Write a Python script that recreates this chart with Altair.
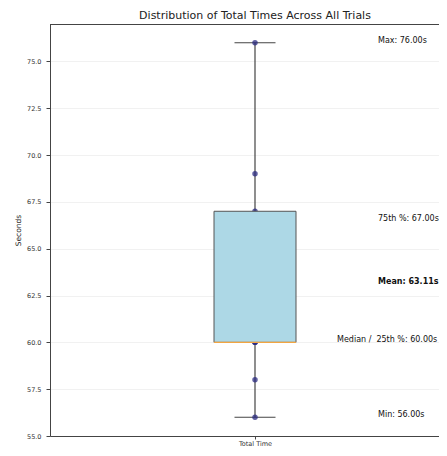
import altair as alt
import pandas as pd

# ---- data ----
times = [56, 58, 60, 60, 60, 62, 67, 69, 76]
category = "Total Time"
note_labels = ["Max: 76.00s", "75th %: 67.00s", "Mean: 63.11s",
               "Median /\u00a0 25th %: 60.00s", "Min: 56.00s"]
note_y = [76.0, 66.5, 63.11, 60.0, 56.0]
note_x = [1.3, 1.3, 1.3, 1.2, 1.3]
note_bold = [False, False, True, False, False]
y_ticks = [55.0, 57.5, 60.0, 62.5, 65.0, 67.5, 70.0, 72.5, 75.0]

df = pd.DataFrame({"time": times, "pos": [1] * len(times)})
notes = pd.DataFrame({"label": note_labels, "y": note_y, "x": note_x, "bold": note_bold})

FONT = "DejaVu Sans"
W, H = 389, 412
xscale = alt.Scale(domain=[0.5, 0.5 + W / 410], nice=False, zero=False)
yscale = alt.Scale(domain=[55, 77], nice=False, zero=False)
xaxis = alt.Axis(values=[1], labelExpr="'%s'" % category, grid=False, domain=True,
                 ticks=True, tickSize=3, labelPadding=1)
yaxis = alt.Axis(values=y_ticks, format=".1f", grid=True, domain=True,
                 tickSize=4, labelPadding=5, titlePadding=4)


def X(field, **kw):
    return alt.X(field, type="quantitative", scale=xscale, axis=xaxis, title=None, **kw)


def Y(field, **kw):
    return alt.Y(field, type="quantitative", scale=yscale, axis=yaxis, title="Seconds", **kw)


base = alt.Chart(df)
stats = base.transform_aggregate(
    q1="q1(time)", q3="q3(time)", med="median(time)", lo="min(time)", hi="max(time)"
).transform_calculate(xl="0.9", xr="1.1", cl="0.95", cr="1.05", xc="1")

top_spine = base.mark_rule(color="#444444", strokeWidth=1).encode(
    x=alt.value(0), x2=alt.value(W), y=alt.value(0.5))
whisker = stats.mark_rule(color="#444444", strokeWidth=1.2).encode(
    x=X("xc"), y=Y("lo"), y2="hi:Q")
cap_lo = stats.mark_rule(color="#444444", strokeWidth=1.2).encode(
    x=X("cl"), x2="cr:Q", y=Y("lo"))
cap_hi = stats.mark_rule(color="#444444", strokeWidth=1.2).encode(
    x=X("cl"), x2="cr:Q", y=Y("hi"))
points = base.mark_circle(size=30, color="#2a2a80", opacity=0.75).encode(
    x=X("pos"), y=Y("time"))
box = stats.mark_rect(fill="#add8e6", stroke="#555555", strokeWidth=1).encode(
    x=X("xl"), x2="xr:Q", y=Y("q1"), y2="q3:Q")
median = stats.mark_rule(color="#f2a541", strokeWidth=1.2).encode(
    x=X("xl"), x2="xr:Q", y=Y("med"))
note_base = alt.Chart(notes)
text_normal = note_base.transform_filter("!datum.bold").mark_text(
    align="left", baseline="alphabetic", fontSize=8, font=FONT, color="#111111"
).encode(x=X("x"), y=Y("y"), text="label:N")
text_bold = note_base.transform_filter("datum.bold").mark_text(
    align="left", baseline="alphabetic", fontSize=8, font=FONT, color="#111111",
    fontWeight="bold"
).encode(x=X("x"), y=Y("y"), text="label:N")

chart = alt.layer(whisker, cap_lo, cap_hi, points, box, median,
                  text_normal, text_bold, top_spine).properties(
    width=W, height=H,
    autosize=alt.AutoSizeParams(type="none"),
    padding={"left": 42, "top": 16, "right": 0, "bottom": 12},
    title=alt.TitleParams("Distribution of Total Times Across All Trials", fontSize=11,
                          font=FONT, fontWeight="normal", anchor="middle", dx=10.5,
                          offset=3, color="#222222"),
).configure_view(stroke=None).configure_axis(
    labelFont=FONT, labelFontSize=6.5, labelColor="#333333", tickColor="#444444",
    domainColor="#444444", domainWidth=1,
    titleFont=FONT, titleFontSize=7.5, titleFontWeight="normal", titleColor="#222222",
    gridColor="#eeeeee", gridWidth=0.8,
)

chart.save("out.html", embed_options={"renderer": "svg", "actions": False})
